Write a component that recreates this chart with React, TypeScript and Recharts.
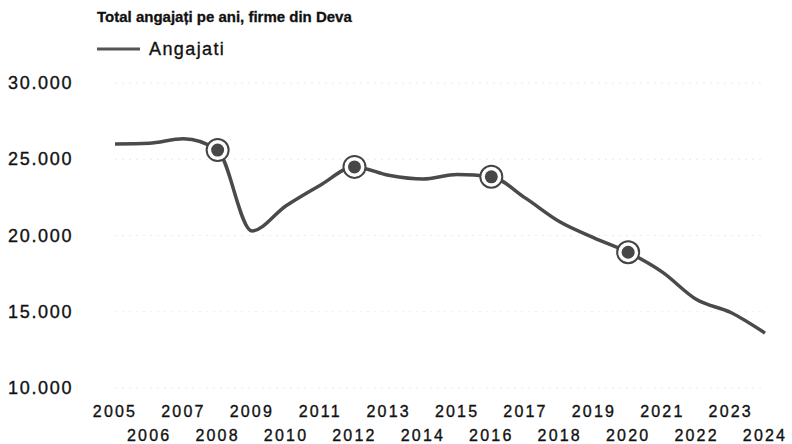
import React from "react";
import { LineChart, Line, XAxis, YAxis, CartesianGrid } from "recharts";

const years = ["2005","2006","2007","2008","2009","2010","2011","2012","2013","2014","2015","2016","2017","2018","2019","2020","2021","2022","2023","2024"];
const employees = [26000,26050,26350,25600,20300,21950,23300,24500,23950,23700,24000,23850,22450,20900,19850,18900,17600,15800,14950,13600];
const markedYears = ["2008","2012","2016","2020"];
const yTicks = [10000,15000,20000,25000,30000];

const data = years.map((y, i) => ({ year: y, value: employees[i] }));

const fmt = (v: number) => v.toLocaleString("de-DE");
const FONT = "'Liberation Sans', Arial, Helvetica, sans-serif";

const YTick = (props: any) => {
  const { y, payload } = props;
  return (
    <text x={8} y={y} dy={6} textAnchor="start" fontFamily={FONT} fontSize={18} letterSpacing={1.7} fill="#111" stroke="#111" strokeWidth={0.35}>
      {fmt(payload.value)}
    </text>
  );
};

const XTick = (props: any) => {
  const { x, y, payload, index } = props;
  const row = index % 2 === 0 ? 0 : 1;
  return (
    <text x={x} y={y} dy={row === 0 ? 21 : 45} textAnchor="middle" fontFamily={FONT} fontSize={16} letterSpacing={2.2} fill="#111" stroke="#111" strokeWidth={0.35}>
      {payload.value}
    </text>
  );
};

const Dot = (props: any) => {
  const { cx, cy, payload, index } = props;
  if (!markedYears.includes(payload.year)) return <g key={`d${index}`} />;
  return (
    <g key={`d${index}`}>
      <circle cx={cx} cy={cy} r={11} fill="#fff" stroke="#444" strokeWidth={2} />
      <circle cx={cx} cy={cy} r={6.5} fill="#474747" />
    </g>
  );
};

export default function App() {
  return (
    <div style={{ position: "absolute", left: 0, top: 0, width: 792, height: 444, background: "#fff" }}>
      <LineChart width={792} height={444} data={data} margin={{ top: 83, right: 27, bottom: 0, left: 0 }}>
        <CartesianGrid vertical={false} stroke="#ececec" strokeDasharray="2 5" />
        <XAxis dataKey="year" interval={0} axisLine={false} tickLine={false} height={56} tick={<XTick />} />
        <YAxis domain={[10000, 30000]} ticks={yTicks} width={115} axisLine={false} tickLine={false} tick={<YTick />} />
        <Line type="monotone" dataKey="value" stroke="#4a4a4a" strokeWidth={3.5} dot={<Dot />} activeDot={false} isAnimationActive={false} />
        <text x={97} y={22} fontFamily={FONT} fontWeight="bold" fontSize={15} fill="#111" stroke="#111" strokeWidth={0.3}>Total angajați pe ani, firme din Deva</text>
        <line x1={97} y1={49} x2={140} y2={49} stroke="#555" strokeWidth={3} />
        <text x={149} y={55} fontFamily={FONT} fontSize={18} letterSpacing={1.4} fill="#111" stroke="#111" strokeWidth={0.35}>Angajati</text>
      </LineChart>
    </div>
  );
}
